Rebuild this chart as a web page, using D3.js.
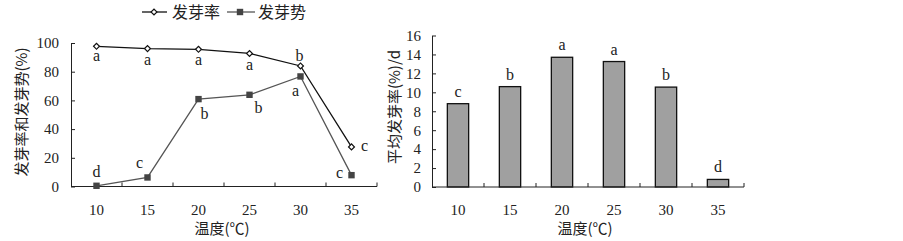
<!DOCTYPE html>
<html>
<head>
<meta charset="utf-8">
<script src="https://cdn.jsdelivr.net/npm/d3@7"></script>
<style>
  body { margin: 0; background: #fff; }
  svg { display: block; }
</style>
</head>
<body>
<div id="chart"></div>
<script>
// data
const temps = [10, 15, 20, 25, 30, 35];
const germRate = [97.7, 96.1, 95.6, 92.7, 84.0, 27.6];       // 发芽率 (%)
const germEnergy = [0.5, 6.3, 60.9, 63.9, 76.7, 7.9];        // 发芽势 (%)
const rateLetters = ["a", "a", "a", "a", "b", "c"];
const energyLetters = ["d", "c", "b", "b", "a", "c"];
const meanRate = [8.8, 10.6, 13.7, 13.25, 10.55, 0.8];       // 平均发芽率 (%)/d
const meanLetters = ["c", "b", "a", "a", "b", "d"];
const leftTicks = [0, 20, 40, 60, 80, 100];
const rightTicks = [0, 2, 4, 6, 8, 10, 12, 14, 16];

// label offsets (dx, dy of letter center from point)
const rateOff = [[0, 11], [0, 12.5], [0, 12], [0, 12.5], [-1, -9], [13, 0]];
const energyOff = [[0, -13], [-8, -13], [6, 16], [9, 14.5], [-5, 16], [-12, -1.5]];

const W = 903, H = 241;
const svg = d3.select("#chart").append("svg").attr("width", W).attr("height", H);

const ink = "#222";
const SERIF = "'Liberation Serif', 'Times New Roman', serif";
const ZH = "'Noto Sans CJK SC', sans-serif";

const num = (sel, size) => sel
  .style("font-family", SERIF).style("font-size", (size || 15) + "px").attr("fill", ink);
const zh = (sel, size) => sel
  .style("font-family", ZH).style("font-size", (size || 15) + "px").attr("fill", ink);

// ---------- left chart ----------
const xL = d3.scaleBand().domain(temps).range([71, 377]);
const yL = d3.scaleLinear().domain([0, 100]).range([186.5, 43]);

const gL = svg.append("g");

gL.append("g")
  .attr("transform", "translate(71,0)")
  .call(d3.axisLeft(yL).tickValues(leftTicks).tickSize(-4).tickPadding(12).tickSizeOuter(0))
  .call(g => g.select(".domain").attr("stroke", ink))
  .call(g => g.selectAll(".tick line").attr("stroke", ink))
  .call(g => g.selectAll("text").call(num));

function xAxis(g, x, y0) {
  g.append("line")
    .attr("x1", x.range()[0]).attr("x2", x.range()[1])
    .attr("y1", y0).attr("y2", y0).attr("stroke", ink);
  const bounds = temps.map(d => x(d)).concat([x.range()[1]]);
  g.selectAll(".bt").data(bounds.slice(1)).join("line")
    .attr("x1", d => d).attr("x2", d => d)
    .attr("y1", y0).attr("y2", y0 - 4).attr("stroke", ink);
  g.selectAll(".xl").data(temps).join("text")
    .call(num)
    .attr("x", d => x(d) + x.bandwidth() / 2)
    .attr("y", y0 + 28)
    .attr("text-anchor", "middle")
    .text(d => d);
}
xAxis(gL, xL, 186.5);

const cx = d => xL(d) + xL.bandwidth() / 2;

const line = d3.line().x((d, i) => cx(temps[i])).y(d => yL(d));
gL.append("path").datum(germRate).attr("d", line)
  .attr("fill", "none").attr("stroke", "#111").attr("stroke-width", 1.3);
gL.append("path").datum(germEnergy).attr("d", line)
  .attr("fill", "none").attr("stroke", "#555").attr("stroke-width", 1.3);

const diamondPath = d3.symbol().type(d3.symbolSquare2).size(22);
gL.selectAll(".rp").data(germRate).join("path")
  .attr("transform", (d, i) => `translate(${cx(temps[i])},${yL(d)}) rotate(45)`)
  .attr("d", diamondPath)
  .attr("fill", "#fff").attr("stroke", "#111").attr("stroke-width", 1.2);
gL.selectAll(".ep").data(germEnergy).join("rect")
  .attr("x", (d, i) => cx(temps[i]) - 3.2).attr("y", d => yL(d) - 3.2)
  .attr("width", 6.4).attr("height", 6.4).attr("fill", "#444");

const letterStyle = sel => sel.call(num, 16).attr("text-anchor", "middle");
gL.selectAll(".rl").data(germRate).join("text").call(letterStyle)
  .attr("x", (d, i) => cx(temps[i]) + rateOff[i][0])
  .attr("y", (d, i) => yL(d) + rateOff[i][1] + 4)
  .text((d, i) => rateLetters[i]);
gL.selectAll(".el").data(germEnergy).join("text").call(letterStyle)
  .attr("x", (d, i) => cx(temps[i]) + energyOff[i][0])
  .attr("y", (d, i) => yL(d) + energyOff[i][1] + 4)
  .text((d, i) => energyLetters[i]);

gL.append("text").call(zh)
  .attr("transform", "translate(27,112) rotate(-90)")
  .attr("text-anchor", "middle").text("发芽率和发芽势(%)");
gL.append("text").call(zh)
  .attr("x", 222).attr("y", 234).attr("text-anchor", "middle").text("温度(℃)");

// legend
const leg = svg.append("g");
leg.append("line").attr("x1", 142).attr("x2", 167).attr("y1", 12).attr("y2", 12).attr("stroke", "#111").attr("stroke-width", 1.3);
leg.append("path").attr("transform", "translate(154,12) rotate(45)")
  .attr("d", diamondPath)
  .attr("fill", "#fff").attr("stroke", "#111").attr("stroke-width", 1.2);
leg.append("text").call(zh, 16).attr("x", 172).attr("y", 18).text("发芽率");
leg.append("line").attr("x1", 227).attr("x2", 255).attr("y1", 12).attr("y2", 12).attr("stroke", "#555").attr("stroke-width", 1.3);
leg.append("rect").attr("x", 236.8).attr("y", 8.8).attr("width", 6.4).attr("height", 6.4).attr("fill", "#444");
leg.append("text").call(zh, 16).attr("x", 258).attr("y", 18).text("发芽势");

// ---------- right chart ----------
const xR = d3.scaleBand().domain(temps).range([432, 744]);
const yR = d3.scaleLinear().domain([0, 16]).range([187, 35.5]);
const gR = svg.append("g");

const barW = xR.bandwidth() * 0.41;
gR.selectAll(".bar").data(meanRate).join("rect")
  .attr("x", (d, i) => xR(temps[i]) + (xR.bandwidth() - barW) / 2)
  .attr("y", d => yR(d))
  .attr("width", barW)
  .attr("height", d => yR(0) - yR(d))
  .attr("fill", "#a0a0a0").attr("stroke", "#111").attr("stroke-width", 1.3);

gR.append("g")
  .attr("transform", "translate(432,0)")
  .call(d3.axisLeft(yR).tickValues(rightTicks).tickSize(-4).tickPadding(11).tickSizeOuter(0))
  .call(g => g.select(".domain").attr("stroke", ink))
  .call(g => g.selectAll(".tick line").attr("stroke", ink))
  .call(g => g.selectAll("text").call(num));

xAxis(gR, xR, 187);

gR.selectAll(".bl").data(meanRate).join("text").call(letterStyle)
  .attr("x", (d, i) => xR(temps[i]) + xR.bandwidth() / 2)
  .attr("y", d => yR(d) - 11 + 4)
  .text((d, i) => meanLetters[i]);

gR.append("text").call(zh)
  .attr("transform", "translate(400,107) rotate(-90)")
  .attr("text-anchor", "middle").text("平均发芽率(%)/d");
gR.append("text").call(zh)
  .attr("x", 585).attr("y", 234).attr("text-anchor", "middle").text("温度(℃)");
</script>
</body>
</html>
